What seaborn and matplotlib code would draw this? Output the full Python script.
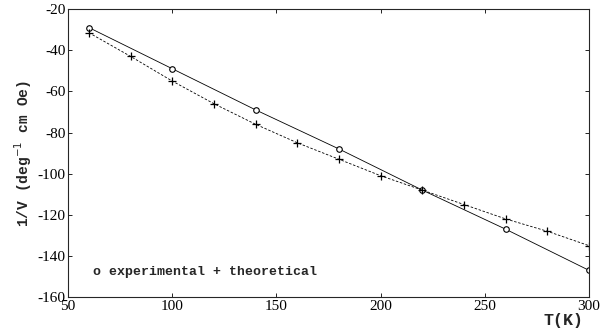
import pandas as pd
import matplotlib
matplotlib.use("Agg")
import matplotlib.pyplot as plt
import seaborn as sns

# experimental points
t_exp = [60, 100, 140, 180, 220, 260, 300]
v_exp = [-29, -49, -69, -88, -108, -127, -147]

# theoretical points
t_th = [60, 80, 100, 120, 140, 160, 180, 200, 220, 240, 260, 280, 300]
v_th = [-31.5, -43, -55, -66, -76, -85, -93, -101, -108, -115, -122, -128, -135]

x_ticks = [50, 100, 150, 200, 250, 300]
y_ticks = [-160, -140, -120, -100, -80, -60, -40, -20]

df_exp = pd.DataFrame({"T": t_exp, "V": v_exp})
df_th = pd.DataFrame({"T": t_th, "V": v_th})

sns.set_style("ticks")
plt.rcParams["font.family"] = ["Liberation Serif", "DejaVu Serif"]
plt.rcParams["axes.unicode_minus"] = False

fig = plt.figure(figsize=(6.13, 3.35), dpi=100)
ax = fig.add_axes([0.111, 0.113, 0.850, 0.860])

sns.lineplot(data=df_exp, x="T", y="V", ax=ax, color="black", linewidth=0.6,
             marker="o", markersize=4, markerfacecolor="white",
             markeredgecolor="black", markeredgewidth=0.8)
sns.lineplot(data=df_th, x="T", y="V", ax=ax, color="black", linewidth=0.6,
             linestyle=(0, (3, 2)), marker="+", markersize=6,
             markeredgecolor="black", markeredgewidth=0.9)

ax.set_xlim(50, 300)
ax.set_ylim(-160, -20)
ax.set_xticks(x_ticks)
ax.set_yticks(y_ticks)
ax.tick_params(direction="in", top=True, right=True, length=3, width=0.6,
               labelsize=11, pad=2, colors="black")
for s in ax.spines.values():
    s.set_linewidth(0.8)

ax.set_xlabel("")
ax.set_ylabel(r"1/V (deg$^{-1}$ cm Oe)", family="Liberation Mono",
              fontweight="bold", fontsize=10.5, labelpad=2)
ax.text(0.99, -0.055, "T(K)", transform=ax.transAxes, ha="right", va="top",
        family="Liberation Mono", fontweight="bold", fontsize=12)

ax.text(62, -148, "o experimental + theoretical", ha="left", va="center",
        family="Liberation Mono", fontweight="bold", fontsize=9.5)

fig.savefig("out.png", dpi=100)
